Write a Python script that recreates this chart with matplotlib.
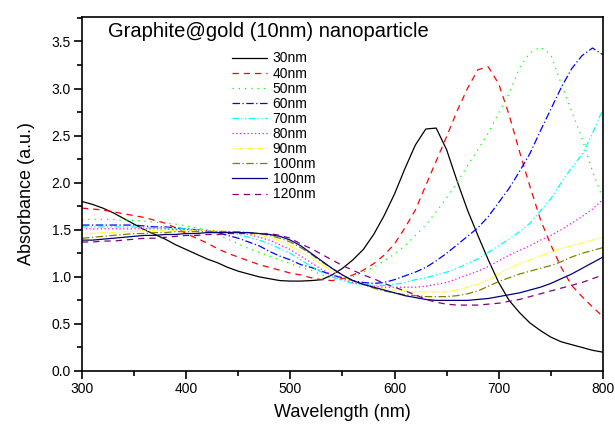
import numpy as np
import matplotlib
matplotlib.use("Agg")
from matplotlib import pyplot as plt
from matplotlib.ticker import MultipleLocator

plt.rcParams['font.family'] = ['Liberation Sans', 'DejaVu Sans']

# wavelength grid (nm)
wavelength = np.arange(300, 801, 10)

abs_30 = [1.80, 1.77, 1.73, 1.68, 1.62, 1.56, 1.50, 1.45, 1.40, 1.34,
          1.29, 1.24, 1.19, 1.15, 1.10, 1.06, 1.03, 1.00, 0.98, 0.96,
          0.955, 0.955, 0.96, 0.97, 1.02, 1.09, 1.18, 1.29, 1.45, 1.65,
          1.88, 2.15, 2.40, 2.57, 2.58, 2.35, 2.02, 1.71, 1.44, 1.18,
          0.94, 0.75, 0.62, 0.51, 0.43, 0.36, 0.31, 0.28, 0.25, 0.22,
          0.20]
abs_40 = [1.73, 1.72, 1.71, 1.69, 1.67, 1.65, 1.63, 1.60, 1.57, 1.52,
          1.46, 1.41, 1.36, 1.30, 1.25, 1.21, 1.17, 1.13, 1.10, 1.07,
          1.04, 1.02, 0.99, 0.97, 0.96, 0.98, 1.02, 1.07, 1.14, 1.23,
          1.35, 1.52, 1.71, 1.97, 2.23, 2.49, 2.76, 3.00, 3.20, 3.23,
          3.05, 2.72, 2.33, 1.96, 1.61, 1.34, 1.10, 0.91, 0.79, 0.68,
          0.58]
abs_50 = [1.61, 1.61, 1.61, 1.61, 1.60, 1.60, 1.59, 1.58, 1.57, 1.56,
          1.54, 1.52, 1.50, 1.45, 1.40, 1.35, 1.30, 1.26, 1.22, 1.18,
          1.14, 1.10, 1.07, 1.02, 0.98, 0.97, 1.00, 1.05, 1.10, 1.17,
          1.24, 1.33, 1.44, 1.55, 1.69, 1.84, 2.00, 2.18, 2.35, 2.53,
          2.74, 2.95, 3.22, 3.38, 3.44, 3.36, 3.05, 2.76, 2.47, 2.12,
          1.83]
abs_60 = [1.55, 1.55, 1.55, 1.55, 1.55, 1.55, 1.54, 1.53, 1.53, 1.52,
          1.51, 1.50, 1.49, 1.47, 1.44, 1.41, 1.37, 1.33, 1.27, 1.22,
          1.18, 1.13, 1.10, 1.06, 1.02, 0.99, 0.96, 0.94, 0.93, 0.94,
          0.97, 1.01, 1.05, 1.10, 1.17, 1.25, 1.34, 1.43, 1.52, 1.64,
          1.79, 1.94, 2.12, 2.31, 2.55, 2.78, 3.01, 3.21, 3.35, 3.43,
          3.36]
abs_70 = [1.53, 1.53, 1.53, 1.53, 1.53, 1.53, 1.52, 1.52, 1.52, 1.51,
          1.51, 1.50, 1.49, 1.48, 1.47, 1.45, 1.42, 1.39, 1.35, 1.30,
          1.25, 1.18, 1.11, 1.05, 1.00, 0.96, 0.93, 0.92, 0.91, 0.91,
          0.92, 0.94, 0.97, 0.99, 1.02, 1.05, 1.09, 1.14, 1.19, 1.26,
          1.33, 1.40, 1.48, 1.57, 1.70, 1.83, 2.00, 2.16, 2.30, 2.52,
          2.78]
abs_80 = [1.51, 1.51, 1.51, 1.51, 1.51, 1.51, 1.51, 1.51, 1.51, 1.50,
          1.50, 1.50, 1.49, 1.49, 1.48, 1.47, 1.45, 1.42, 1.39, 1.34,
          1.29, 1.22, 1.15, 1.08, 1.02, 0.98, 0.94, 0.92, 0.90, 0.89,
          0.89, 0.89, 0.89, 0.90, 0.92, 0.94, 0.98, 1.02, 1.06, 1.11,
          1.17, 1.23, 1.28, 1.33, 1.39, 1.44, 1.50, 1.57, 1.64, 1.72,
          1.82]
abs_90 = [1.46, 1.46, 1.47, 1.47, 1.48, 1.48, 1.49, 1.49, 1.49, 1.49,
          1.49, 1.49, 1.49, 1.49, 1.48, 1.47, 1.46, 1.44, 1.42, 1.38,
          1.33, 1.27, 1.20, 1.13, 1.06, 1.00, 0.95, 0.92, 0.89, 0.87,
          0.86, 0.85, 0.84, 0.84, 0.84, 0.84, 0.86, 0.89, 0.92, 0.97,
          1.03, 1.09, 1.14, 1.18, 1.22, 1.26, 1.30, 1.33, 1.36, 1.39,
          1.42]
abs_100a = [1.41, 1.42, 1.43, 1.44, 1.45, 1.46, 1.46, 1.47, 1.47, 1.48,
            1.48, 1.48, 1.48, 1.48, 1.48, 1.48, 1.47, 1.46, 1.44, 1.41,
            1.37, 1.31, 1.24, 1.16, 1.09, 1.02, 0.96, 0.92, 0.88, 0.85,
            0.83, 0.81, 0.80, 0.79, 0.79, 0.79, 0.80, 0.82, 0.85, 0.90,
            0.95, 0.99, 1.03, 1.06, 1.09, 1.12, 1.16, 1.21, 1.25, 1.28,
            1.31]
abs_100b = [1.39, 1.39, 1.40, 1.41, 1.42, 1.43, 1.44, 1.44, 1.45, 1.45,
            1.46, 1.46, 1.47, 1.47, 1.47, 1.47, 1.47, 1.46, 1.45, 1.43,
            1.39, 1.33, 1.25, 1.17, 1.09, 1.02, 0.96, 0.92, 0.89, 0.86,
            0.83, 0.80, 0.78, 0.76, 0.75, 0.75, 0.75, 0.75, 0.76, 0.77,
            0.79, 0.81, 0.83, 0.86, 0.89, 0.93, 0.98, 1.03, 1.09, 1.15,
            1.21]
abs_120 = [1.37, 1.37, 1.38, 1.38, 1.39, 1.40, 1.41, 1.41, 1.42, 1.43,
           1.44, 1.44, 1.45, 1.45, 1.46, 1.46, 1.46, 1.46, 1.46, 1.44,
           1.41, 1.35, 1.30, 1.24, 1.18, 1.12, 1.07, 1.02, 0.98, 0.93,
           0.89, 0.85, 0.81, 0.76, 0.73, 0.71, 0.70, 0.70, 0.70, 0.71,
           0.72, 0.74, 0.76, 0.79, 0.82, 0.85, 0.88, 0.91, 0.94, 0.98,
           1.02]

labels = ['30nm', '40nm', '50nm', '60nm', '70nm', '80nm', '90nm',
          '100nm', '100nm', '120nm']
series = [abs_30, abs_40, abs_50, abs_60, abs_70, abs_80, abs_90,
          abs_100a, abs_100b, abs_120]
colours = ['black', 'red', '#00ff00', 'blue', 'cyan', 'magenta',
           '#ffff00', '#808000', '#000080', '#800080']
styles = ['-', (0, (5, 4)), (0, (1, 4)), (0, (6, 2, 1, 2)),
          (0, (5, 2, 1, 2, 1, 2)), (0, (1, 2)), (0, (1, 1)),
          (0, (6, 2, 1, 2)), '-', (0, (5, 4))]

fig = plt.figure(figsize=(6.15, 4.24), dpi=100)
ax = fig.add_axes([0.1333, 0.125, 0.847, 0.835])

for vals, lab, col, ls in zip(series, labels, colours, styles):
    ax.plot(wavelength, vals, color=col, linestyle=ls, linewidth=0.9,
            label=lab)

ax.set_xlim(300, 800)
ax.set_ylim(0, 3.76)
ax.xaxis.set_major_locator(MultipleLocator(100))
ax.xaxis.set_minor_locator(MultipleLocator(50))
ax.yaxis.set_major_locator(MultipleLocator(0.5))
ax.yaxis.set_minor_locator(MultipleLocator(0.25))
ax.yaxis.set_major_formatter(matplotlib.ticker.FormatStrFormatter('%.1f'))
ax.tick_params(which='both', direction='out', labelsize=10, width=1.2,
               pad=2)
ax.tick_params(which='major', length=6)
ax.tick_params(which='minor', length=3.5)
ax.tick_params(top=False, right=False)
for sp in ax.spines.values():
    sp.set_linewidth(1.2)

ax.set_xlabel('Wavelength (nm)', fontsize=13, labelpad=6)
ax.set_ylabel('Absorbance (a.u.)', fontsize=13, labelpad=12)

ax.text(0.05, 0.985, 'Graphite@gold (10nm) nanoparticle', fontsize=14.5,
        transform=ax.transAxes, va='top', ha='left')

ax.legend(loc='upper left', bbox_to_anchor=(0.27, 0.93), frameon=False,
          fontsize=10, handlelength=2.5, handletextpad=0.4,
          labelspacing=0.08, borderpad=0.2)

fig.savefig('out.png', dpi=100)
